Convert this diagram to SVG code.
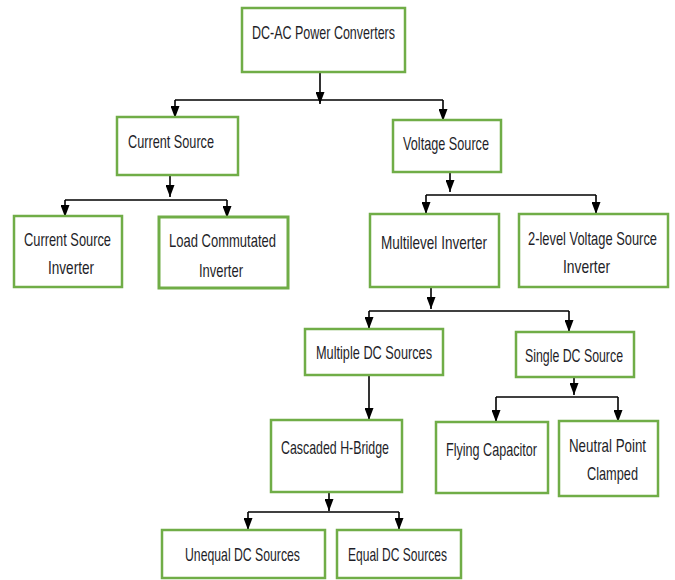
<svg xmlns="http://www.w3.org/2000/svg" width="675" height="580" viewBox="0 0 675 580">
<style>
.box{fill:#fff;stroke:#70AD47;stroke-width:2.5}
.t{font-family:"Liberation Sans",Arial,sans-serif;font-size:13px;fill:#1e1e28}
.c{stroke:#000;stroke-width:1.6;fill:none}
.a{stroke:#000;stroke-width:1.6;fill:none;marker-end:url(#arr)}
</style>
<defs>
<marker id="arr" viewBox="0 0 12 9" refX="12" refY="4.5" markerWidth="12" markerHeight="9" markerUnits="userSpaceOnUse" orient="auto">
<path d="M0,0 L12,4.5 L0,9 z" fill="#000"/>
</marker>
</defs>
<rect width="675" height="580" fill="#fff"/>
<g id="connectors">
<path class="a" d="M320,72 V104"/>
<path class="c" d="M175,100 H443"/>
<path class="a" d="M175,100 V118"/>
<path class="a" d="M443,100 V121"/>
<path class="a" d="M170,176 V197"/>
<path class="c" d="M65,200 H227"/>
<path class="a" d="M65,200 V217"/>
<path class="a" d="M227,200 V218"/>
<path class="a" d="M450,173 V192"/>
<path class="c" d="M426,195 H596"/>
<path class="a" d="M426,195 V214"/>
<path class="a" d="M596,195 V214"/>
<path class="a" d="M431,288 V309"/>
<path class="c" d="M369,311 H569"/>
<path class="a" d="M369,311 V329"/>
<path class="a" d="M569,311 V332"/>
<path class="a" d="M369,376 V420"/>
<path class="a" d="M574,378 V395"/>
<path class="c" d="M496,397 H618"/>
<path class="a" d="M496,397 V422"/>
<path class="a" d="M618,397 V422"/>
<path class="a" d="M329,492 V511"/>
<path class="c" d="M248,512 H399"/>
<path class="a" d="M248,512 V530"/>
<path class="a" d="M399,512 V530"/>
</g>
<g id="dcac"><rect class="box" x="242" y="8" width="163" height="64"/><text class="t" transform="translate(252,39) scale(1,1.46)" textLength="143" lengthAdjust="spacingAndGlyphs">DC-AC Power Converters</text></g>
<g id="current-source"><rect class="box" x="117" y="117" width="121" height="58"/><text class="t" transform="translate(128,148) scale(1,1.46)" textLength="86" lengthAdjust="spacingAndGlyphs">Current Source</text></g>
<g id="voltage-source"><rect class="box" x="393" y="120" width="108" height="52"/><text class="t" transform="translate(403,150) scale(1,1.46)" textLength="86" lengthAdjust="spacingAndGlyphs">Voltage Source</text></g>
<g id="csi"><rect class="box" x="14" y="216" width="108" height="71"/><text class="t" transform="translate(24,246) scale(1,1.46)" textLength="87" lengthAdjust="spacingAndGlyphs">Current Source</text><text class="t" transform="translate(48,274) scale(1,1.46)" textLength="46" lengthAdjust="spacingAndGlyphs">Inverter</text></g>
<g id="lci"><rect class="box" x="159" y="217" width="129" height="71" style="stroke-width:3"/><text class="t" transform="translate(169,247) scale(1,1.46)" textLength="107" lengthAdjust="spacingAndGlyphs">Load Commutated</text><text class="t" transform="translate(199,277) scale(1,1.46)" textLength="44" lengthAdjust="spacingAndGlyphs">Inverter</text></g>
<g id="multilevel"><rect class="box" x="370" y="214" width="129" height="73"/><text class="t" transform="translate(381,249) scale(1,1.46)" textLength="106" lengthAdjust="spacingAndGlyphs">Multilevel Inverter</text></g>
<g id="two-level"><rect class="box" x="519" y="214" width="149" height="73"/><text class="t" transform="translate(528,245) scale(1,1.46)" textLength="129" lengthAdjust="spacingAndGlyphs">2-level Voltage Source</text><text class="t" transform="translate(563,273) scale(1,1.46)" textLength="47" lengthAdjust="spacingAndGlyphs">Inverter</text></g>
<g id="multiple-dc"><rect class="box" x="305" y="329" width="138" height="46"/><text class="t" transform="translate(316,359) scale(1,1.46)" textLength="116" lengthAdjust="spacingAndGlyphs">Multiple DC Sources</text></g>
<g id="single-dc"><rect class="box" x="516" y="332" width="118" height="45"/><text class="t" transform="translate(525,362) scale(1,1.46)" textLength="98" lengthAdjust="spacingAndGlyphs">Single DC Source</text></g>
<g id="cascaded"><rect class="box" x="271" y="420" width="131" height="72"/><text class="t" transform="translate(281,454) scale(1,1.46)" textLength="108" lengthAdjust="spacingAndGlyphs">Cascaded H-Bridge</text></g>
<g id="flying"><rect class="box" x="436" y="422" width="112" height="71"/><text class="t" transform="translate(446,456) scale(1,1.46)" textLength="91" lengthAdjust="spacingAndGlyphs">Flying Capacitor</text></g>
<g id="npc"><rect class="box" x="559" y="421" width="99" height="75"/><text class="t" transform="translate(569,452) scale(1,1.46)" textLength="77" lengthAdjust="spacingAndGlyphs">Neutral Point</text><text class="t" transform="translate(587,480) scale(1,1.46)" textLength="51" lengthAdjust="spacingAndGlyphs">Clamped</text></g>
<g id="unequal"><rect class="box" x="162" y="530" width="163" height="48"/><text class="t" transform="translate(185,561) scale(1,1.46)" textLength="115" lengthAdjust="spacingAndGlyphs">Unequal DC Sources</text></g>
<g id="equal"><rect class="box" x="337" y="530" width="124" height="48"/><text class="t" transform="translate(348,561) scale(1,1.46)" textLength="99" lengthAdjust="spacingAndGlyphs">Equal DC Sources</text></g>
</svg>
